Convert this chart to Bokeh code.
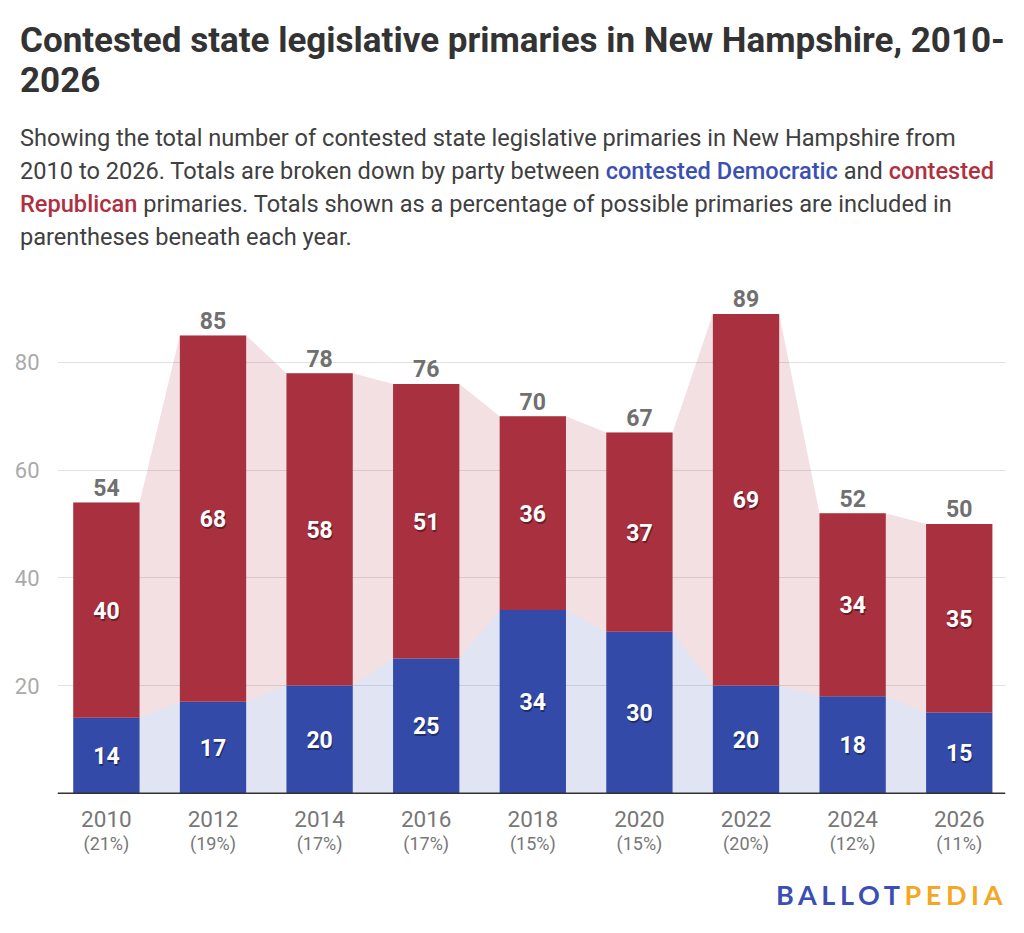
from bokeh.core.properties import value
from bokeh.embed import file_html
from bokeh.layouts import column
from bokeh.models import ColumnDataSource, Div, FixedTicker, Span
from bokeh.plotting import figure
from bokeh.resources import INLINE

years = ["2010", "2012", "2014", "2016", "2018", "2020", "2022", "2024", "2026"]
democratic = [14, 17, 20, 25, 34, 30, 20, 18, 15]
republican = [40, 68, 58, 51, 36, 37, 69, 34, 35]
pct_possible = ["(21%)", "(19%)", "(17%)", "(17%)", "(15%)", "(15%)", "(20%)", "(12%)", "(11%)"]
y_ticks = [20, 40, 60, 80]

BLUE = "#334aa8"
RED = "#a8303f"
FONT = "Roboto"
BAR_W = 0.622

xs = list(range(len(years)))
totals = [d + r for d, r in zip(democratic, republican)]

src = ColumnDataSource(dict(
    x=xs, year=years, pct=pct_possible,
    dem=democratic, rep=republican, total=totals,
    dem_mid=[d / 2 for d in democratic],
    rep_mid=[d + r / 2 for d, r in zip(democratic, republican)],
    dem_txt=[str(d) for d in democratic],
    rep_txt=[str(r) for r in republican],
    tot_txt=[str(t) for t in totals],
    zero=[0] * len(years),
))

# connecting areas: flat across each bar, joined between bars
ax, a_dem, a_tot = [], [], []
for x, d, t in zip(xs, democratic, totals):
    ax += [x - BAR_W / 2, x + BAR_W / 2]
    a_dem += [d, d]
    a_tot += [t, t]

hl = "font-weight:500"
header = Div(width=1016, height=262, text=f"""
<div style="font-family:{FONT};padding:0 15px;">
  <div style="font-size:35px;font-weight:700;color:#333;line-height:40px;margin-top:16px;white-space:nowrap;">
    Contested state legislative primaries in New Hampshire, 2010-<br>2026</div>
  <div style="font-size:23.6px;color:#404040;line-height:33px;margin-top:21px;white-space:nowrap;">
    Showing the total number of contested state legislative primaries in New Hampshire from<br>
    2010 to 2026. Totals are broken down by party between
    <span style="color:#3a50b4;{hl};">contested Democratic</span> and
    <span style="color:#b0303f;{hl};">contested</span><br>
    <span style="color:#b0303f;{hl};">Republican</span> primaries. Totals shown as a percentage of possible primaries are included in<br>
    parentheses beneath each year.</div>
</div>""")

p = figure(width=1016, height=588, x_range=(-0.4587, 8.434), y_range=(-12.5, 96.7),
           x_axis_location=None, toolbar_location=None, output_backend="svg",
           min_border_left=57, min_border_right=11, min_border_top=0, min_border_bottom=0)
p.outline_line_color = None
p.xgrid.grid_line_color = None
p.ygrid.grid_line_color = "#e2e2e2"
p.ygrid.grid_line_width = 1.2
p.yaxis.ticker = FixedTicker(ticks=y_ticks)
p.yaxis.axis_line_color = None
p.yaxis.major_tick_line_color = None
p.yaxis.minor_tick_line_color = None
p.yaxis.major_label_text_font = FONT
p.yaxis.major_label_text_font_size = "22px"
p.yaxis.major_label_text_color = "#aaaaaa"
p.yaxis.major_label_standoff = 12

p.varea(x=ax, y1=[0] * len(ax), y2=a_dem, fill_color=BLUE, fill_alpha=0.15)
p.varea(x=ax, y1=a_dem, y2=a_tot, fill_color=RED, fill_alpha=0.15)

p.vbar(x="x", bottom=0, top="dem", width=BAR_W, source=src, fill_color=BLUE, line_color=None)
p.vbar(x="x", bottom="dem", top="total", width=BAR_W, source=src, fill_color=RED, line_color=None)

p.add_layout(Span(location=0, dimension="width", line_color="#333333", line_width=1.6))

for col, ycol in (("dem_txt", "dem_mid"), ("rep_txt", "rep_mid")):
    p.text(x="x", y=ycol, text=col, source=src, text_align="center", text_baseline="middle",
           text_font=value(FONT), text_font_style="bold", text_font_size="23px",
           text_color="#000000", text_alpha=0.4, x_offset=1, y_offset=2)
    p.text(x="x", y=ycol, text=col, source=src, text_align="center", text_baseline="middle",
           text_font=value(FONT), text_font_style="bold", text_font_size="23px",
           text_color="#ffffff")

p.text(x="x", y="total", text="tot_txt", source=src, text_align="center",
       text_baseline="alphabetic", y_offset=-15, text_font=value(FONT),
       text_font_style="bold", text_font_size="23px", text_color="#707070")

p.text(x="x", y="zero", text="year", source=src, text_align="center", text_baseline="middle",
       y_offset=26, text_font=value(FONT), text_font_size="22.5px", text_color="#777777")
p.text(x="x", y="zero", text="pct", source=src, text_align="center", text_baseline="middle",
       y_offset=50, text_font=value(FONT), text_font_size="18px", text_color="#777777")

logo = Div(width=1016, height=62, text="""
<div style="width:1016px;box-sizing:border-box;text-align:right;padding-right:14px;padding-top:16px;
font-family:Lato;font-weight:700;font-size:27px;line-height:27px;letter-spacing:4.6px;">
<span style="color:#3a4fb5;">BALLOT</span><span style="color:#f5a623;">PEDIA</span></div>""")

layout = column(header, p, logo)
open("out.html", "w").write(file_html(layout, INLINE))
